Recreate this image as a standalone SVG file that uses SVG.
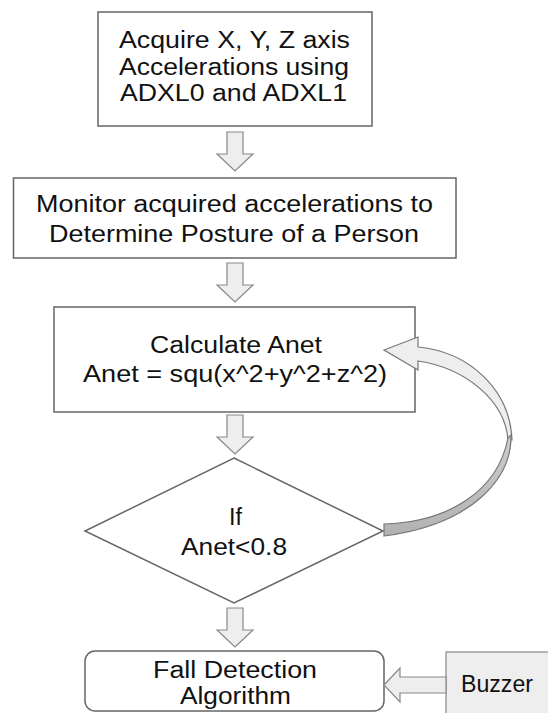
<svg xmlns="http://www.w3.org/2000/svg" width="548" height="713" viewBox="0 0 548 713">
<style>
.box{fill:#fff;stroke:#666;stroke-width:1.5}
.arr{fill:#eee;stroke:#888;stroke-width:1.2;stroke-linejoin:miter}
.t{font-family:"Liberation Sans",Arial,sans-serif;font-size:23px;fill:#111}
</style>
<defs>
<path id="down" d="M -8 0 H 8 V 22 H 18 L 0 39 L -18 22 H -8 Z"/>
<linearGradient id="dk" x1="0" y1="0" x2="0" y2="1">
<stop offset="0" stop-color="#cccccc"/>
<stop offset="1" stop-color="#b2b2b2"/>
</linearGradient>
</defs>
<rect width="548" height="713" fill="#fff"/>
<g id="n1">
<rect class="box" x="98" y="12" width="274" height="114"/>
<text class="t" x="234.5" y="48" text-anchor="middle" textLength="231" lengthAdjust="spacingAndGlyphs">Acquire X, Y, Z axis</text>
<text class="t" x="234" y="75" text-anchor="middle" textLength="230" lengthAdjust="spacingAndGlyphs">Accelerations using</text>
<text class="t" x="233.5" y="101" text-anchor="middle" textLength="227" lengthAdjust="spacingAndGlyphs">ADXL0 and ADXL1</text>
</g>
<g id="n2">
<rect class="box" x="13.5" y="178" width="442.5" height="80"/>
<text class="t" x="234.5" y="212" text-anchor="middle" textLength="397" lengthAdjust="spacingAndGlyphs">Monitor acquired accelerations to</text>
<text class="t" x="234" y="242" text-anchor="middle" textLength="370" lengthAdjust="spacingAndGlyphs">Determine Posture of a Person</text>
</g>
<g id="n3">
<rect class="box" x="54" y="307" width="361" height="105"/>
<text class="t" x="236" y="353" text-anchor="middle" textLength="172" lengthAdjust="spacingAndGlyphs">Calculate Anet</text>
<text class="t" x="235" y="382" text-anchor="middle" textLength="304" lengthAdjust="spacingAndGlyphs">Anet = squ(x^2+y^2+z^2)</text>
</g>
<g id="n4">
<path class="box" d="M 234 458 L 383 531 L 234 603 L 85 531 Z" stroke-width="1.2"/>
<text class="t" x="235.5" y="525" text-anchor="middle" textLength="13" lengthAdjust="spacingAndGlyphs">If</text>
<text class="t" x="234" y="555" text-anchor="middle" textLength="106" lengthAdjust="spacingAndGlyphs">Anet&lt;0.8</text>
</g>
<g id="n5">
<rect class="box" x="85" y="651" width="299" height="60" rx="10"/>
<text class="t" x="235" y="678" text-anchor="middle" textLength="164" lengthAdjust="spacingAndGlyphs">Fall Detection</text>
<text class="t" x="235.5" y="704" text-anchor="middle" textLength="111" lengthAdjust="spacingAndGlyphs">Algorithm</text>
</g>
<g id="n6">
<rect x="446" y="652" width="120" height="80" fill="#eee" stroke="#888" stroke-width="1.2"/>
<text class="t" x="497" y="692" text-anchor="middle" textLength="72" lengthAdjust="spacingAndGlyphs">Buzzer</text>
</g>
<g id="connectors">
<use href="#down" class="arr" transform="translate(235,132)"/>
<use href="#down" class="arr" transform="translate(235,263)"/>
<use href="#down" class="arr" transform="translate(235,415)"/>
<use href="#down" class="arr" transform="translate(235,608)"/>
<path class="arr" d="M 384 685 L 400 668 V 677 H 446 V 693 H 400 V 702 Z"/>
<path d="M 384 350 L 418 337 L 418 347 C 470 352, 510 390, 512 440 L 508 440 C 505 400, 465 368, 418 361 L 418 370 Z" fill="#eee" stroke="#777" stroke-width="1.2"/>
<path d="M 511 435 C 512 480, 470 525, 384 536 L 384 524 C 450 522, 498 490, 508 438 Z" fill="url(#dk)" stroke="#777" stroke-width="1.2"/>
</g>
</svg>
